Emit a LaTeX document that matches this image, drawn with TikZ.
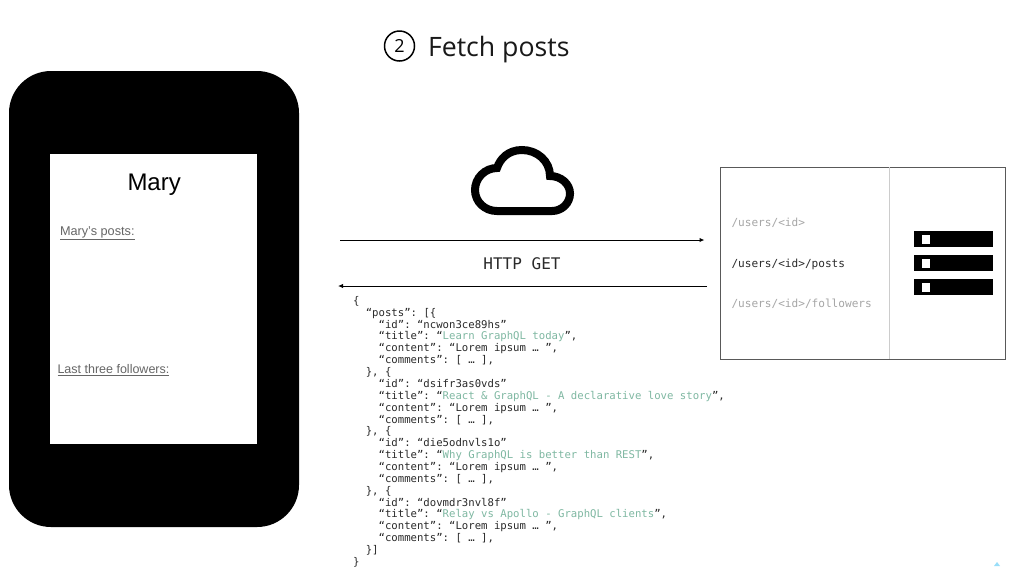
\documentclass[tikz,border=0pt]{standalone}
\usepackage{fontspec}
\setmainfont{Liberation Sans}
\setmonofont{DejaVu Sans Mono}
\newfontfamily\titlefont{Open Sans}
\usetikzlibrary{arrows.meta}
\definecolor{jsondark}{HTML}{2A2A2A}
\definecolor{jsongreen}{HTML}{7FB8A2}
\definecolor{routegrey}{HTML}{A6A6A6}
\definecolor{labelgrey}{HTML}{666666}
\newcommand{\fsz}[1]{\fontsize{#1}{#1}\selectfont}
\newcommand{\ttl}[1]{\textcolor{jsongreen}{#1}}
\newcommand{\ind}[1]{\hspace*{#1\dimexpr 6.4pt\relax}}
\tikzset{
  x=1pt,y=-1pt,
  txt/.style={inner sep=0pt,outer sep=0pt,anchor=base west},
  mono/.style={txt,font=\ttfamily\fontsize{10.65}{11.86}\selectfont},
  route/.style={txt,font=\ttfamily\fsz{11.1}},
  phonelabel/.style={txt,text=labelgrey},
  link/.style={draw=black,line width=1pt,-{Latex[length=5pt,width=4.5pt]}},
  serverbar/.style={fill=black,draw=none},
  serverled/.style={fill=white,draw=none}
}
\begin{document}
\begin{tikzpicture}
\useasboundingbox (0,0) rectangle (1024,566);
\fill[white] (0,0) rectangle (1024,566);
% title
\node[draw=black,line width=1.5pt,circle,minimum size=30pt,inner sep=0pt,font=\titlefont\fsz{18}] (num) at (399.5,46) {2};
\node[txt,font=\titlefont\fsz{26.7},text=black!90] (title) at (428,56) {Fetch posts};
% phone
\fill[black,rounded corners=42pt] (9,71) rectangle (299,527);
\fill[white] (50,154) rectangle (257,444);
\node[txt,font=\fsz{24}] (mary) at (127.5,190) {Mary};
\node[phonelabel,font=\fsz{12.7}] (posts) at (60,235.5) {\underline{Mary's posts:}};
\node[phonelabel,font=\fsz{12.5}] (foll) at (57.5,373.5) {\underline{Last three followers:}};
% cloud
\draw[line width=8pt,line join=miter,black] (497,211) -- (552,211)
  .. controls (562,211) and (570,203) .. (570,193.5)
  .. controls (570,184) and (561,176) .. (550,176)
  .. controls (550,161) and (537,150) .. (522,150)
  .. controls (508,150) and (500,159) .. (497,168)
  .. controls (485,168) and (475,178) .. (475,190)
  .. controls (475,202) and (485,211) .. (497,211) -- cycle;
% arrows
\coordinate (reqa) at (340,240);
\coordinate (reqb) at (704.5,240);
\coordinate (resa) at (707,286);
\coordinate (resb) at (338,286);
\draw[link] (reqa) -- (reqb);
\draw[link] (resa) -- (resb);
\node[txt,anchor=base,font=\ttfamily\fsz{16},text=jsondark] (http) at (522,269) {HTTP GET};
% JSON
\node[mono,text=jsondark,align=left,anchor=north west] (json) at (353,296.3) {%
\{\\
\ind{2}“posts”: [\{\\
\ind{4}“id”: “ncwon3ce89hs”\\
\ind{4}“title”: “\ttl{Learn GraphQL today}”,\\
\ind{4}“content”: “Lorem ipsum … ”,\\
\ind{4}“comments”: [ … ],\\
\ind{2}\}, \{\\
\ind{4}“id”: “dsifr3as0vds”\\
\ind{4}“title”: “\ttl{React \& GraphQL - A declarative love story}”,\\
\ind{4}“content”: “Lorem ipsum … ”,\\
\ind{4}“comments”: [ … ],\\
\ind{2}\}, \{\\
\ind{4}“id”: “die5odnvls1o”\\
\ind{4}“title”: “\ttl{Why GraphQL is better than REST}”,\\
\ind{4}“content”: “Lorem ipsum … ”,\\
\ind{4}“comments”: [ … ],\\
\ind{2}\}, \{\\
\ind{4}“id”: “dovmdr3nvl8f”\\
\ind{4}“title”: “\ttl{Relay vs Apollo - GraphQL clients}”,\\
\ind{4}“content”: “Lorem ipsum … ”,\\
\ind{4}“comments”: [ … ],\\
\ind{2}\}]\\
\}};
% server
\draw[draw=black!65,line width=1pt] (720,167) rectangle (1005,359);
\draw[draw=black!20,line width=1pt] (889,167) -- (889,359);
\node[route,text=routegrey] (r1) at (731.5,226.5) {/users/<id>};
\node[route,text=jsondark] (r2) at (731.5,267) {/users/<id>/posts};
\node[route,text=routegrey] (r3) at (731.5,307) {/users/<id>/followers};
\foreach \yy in {231,255,279}{
  \fill[serverbar] (914,\yy) rectangle (993,\yy+16);
  \fill[serverled] (921.5,\yy+4) rectangle (930,\yy+12.5);
}
% corner mark
\fill[cyan!40!white] (994,566) -- (997,562) -- (1000,566) -- cycle;
\end{tikzpicture}
\end{document}
